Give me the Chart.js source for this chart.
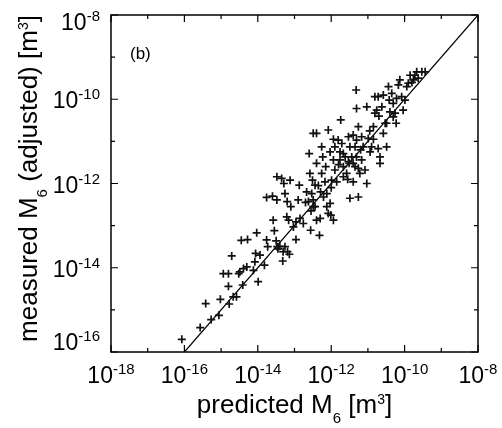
<!DOCTYPE html>
<html>
<head>
    <title>measured vs predicted M6</title>
    <style>
        body { margin: 0; background: #fff; }
        canvas { display: block; }
    </style>
</head>
<body>
    <canvas id="scatterM6" width="502" height="428"></canvas>

    <script src="https://cdn.jsdelivr.net/npm/chart.js"></script>
    <script>
        // log10 of predicted M6 [m^3]
        const predictedLog = [
            -16.07, -15.57, -15.42, -15.27, -15.06, -15.02, -14.80, -14.78, -14.67, -14.58,
            -14.94, -14.80, -14.71, -14.52, -14.49, -14.41, -14.39, -14.30, -14.28, -14.12,
            -14.08, -14.06, -13.99, -13.94, -13.82, -14.03, -13.76, -13.73, -13.58, -13.55,
            -13.76, -13.48, -13.50, -13.47, -13.40, -13.32, -13.31, -13.26, -13.19, -13.14,
            -13.48, -13.35, -13.29, -13.26, -13.21, -13.20, -13.16, -13.12, -13.03, -12.96,
            -12.96, -12.90, -12.87, -12.85, -12.76, -12.62, -12.60, -12.58, -12.53, -12.56,
            -12.49, -12.51, -12.44, -12.49, -12.40, -12.40, -12.32, -12.30, -12.29, -12.26,
            -12.26, -12.23, -12.17, -12.12, -12.08, -12.08, -12.03, -11.99, -12.01, -11.94,
            -11.94, -11.94, -11.90, -11.85, -11.81, -11.76, -11.74, -11.71, -11.67, -11.67,
            -11.62, -11.58, -11.53, -11.51, -11.49, -11.44, -11.40, -11.35, -11.35, -11.32,
            -11.31, -11.26, -11.26, -11.22, -11.17, -11.13, -11.08, -11.03, -11.03, -10.99,
            -10.94, -10.90, -10.85, -10.81, -10.76, -10.72, -10.72, -10.67, -10.67, -10.62,
            -10.53, -10.49, -10.49, -10.44, -10.42, -10.35, -10.31, -10.26, -10.23, -10.22,
            -10.13, -10.08, -10.04, -9.99, -9.94, -9.90, -9.85, -9.76, -9.72, -9.67,
            -9.63, -9.53, -9.44,
            -12.67, -12.44, -12.21, -12.12, -12.40, -12.49, -11.67, -11.53, -11.40, -11.31,
            -11.26, -11.17, -10.81, -10.58, -10.31, -10.17, -10.58, -12.03, -11.90, -11.76,
            -11.49, -11.40, -11.31, -13.60, -14.45, -13.45, -12.70, -12.35, -12.00, -11.80,
            -11.20, -10.95, -10.70, -10.40, -9.80, -12.55, -12.15, -11.55, -10.85, -13.10
        ];

        // log10 of measured M6 (adjusted) [m^3], same order
        const measuredLog = [
            -15.70, -15.42, -14.85, -15.23, -15.13, -14.75, -14.44, -14.86, -14.69, -14.69,
            -14.14, -14.14, -13.72, -14.14, -14.10, -14.41, -14.02, -13.98, -13.33, -14.06,
            -13.86, -13.66, -14.33, -13.70, -13.94, -13.17, -13.34, -13.50, -12.87, -13.12,
            -12.33, -12.39, -13.36, -13.50, -13.49, -13.84, -13.62, -13.50, -13.62, -13.68,
            -11.84, -11.88, -12.00, -12.24, -12.79, -12.43, -12.87, -11.92, -13.03, -12.91,
            -13.33, -12.39, -12.04, -12.83, -12.95, -12.43, -11.29, -11.76, -12.24, -13.11,
            -12.39, -11.92, -12.04, -10.81, -10.81, -11.52, -13.23, -12.83, -12.20, -11.13,
            -11.76, -11.37, -11.96, -12.24, -10.73, -12.71, -12.47, -11.92, -12.75, -12.87,
            -11.44, -10.95, -11.68, -11.96, -10.97, -11.44, -10.49, -11.05, -11.60, -11.84,
            -11.37, -11.76, -10.89, -11.52, -12.35, -11.37, -11.96, -11.13, -11.60, -9.78,
            -10.22, -10.65, -12.32, -11.76, -10.89, -11.13, -11.68, -12.00, -10.18, -10.93,
            -11.25, -11.13, -10.65, -10.33, -10.26, -11.17, -9.94, -11.37, -11.52, -10.18,
            -10.57, -11.13, -10.57, -9.70, -10.02, -9.86, -10.10, -10.33, -10.57, -9.98,
            -9.54, -9.94, -10.26, -10.02, -9.70, -9.62, -9.43, -9.54, -9.43, -9.35,
            -9.50, -9.35, -9.35,
            -12.20, -12.55, -12.32, -12.55, -12.87, -12.55, -11.29, -11.48, -11.52, -11.37,
            -11.64, -11.44, -9.94, -9.90, -10.42, -9.66, -10.81, -11.25, -11.13, -11.25,
            -11.13, -10.85, -10.97, -12.30, -13.35, -13.55, -12.45, -12.05, -12.10, -11.55,
            -11.20, -10.75, -10.40, -10.30, -9.60, -12.65, -11.60, -11.90, -10.95, -12.55
        ];

        // y = x reference line ends
        const diagonalEnds = [1e-16, 1e-8];

        // axis ticks (exponents of 10)
        const xTickExps = [-18, -16, -14, -12, -10, -8];
        const xMinorExps = [-17, -15, -13, -11, -9];
        const yTickExps = [-16, -14, -12, -10, -8];
        const yMinorExps = [-15, -13, -11, -9];

        const points = predictedLog.map((p, i) => ({ x: Math.pow(10, p), y: Math.pow(10, measuredLog[i]) }));

        const FONT = '"Liberation Sans", Arial, Helvetica, sans-serif';

        // draws "10" with a raised exponent; align = 'center' or 'right'
        function drawPower(ctx, exp, x, baseline, align) {
            const base = '10';
            const sup = String(exp);
            ctx.font = '23px ' + FONT;
            const wb = ctx.measureText(base).width;
            ctx.font = '15px ' + FONT;
            const ws = ctx.measureText(sup).width;
            const total = wb + ws;
            let left = align === 'right' ? x - total : x - total / 2;
            ctx.textAlign = 'left';
            ctx.textBaseline = 'alphabetic';
            ctx.font = '23px ' + FONT;
            ctx.fillText(base, left, baseline);
            ctx.font = '15px ' + FONT;
            ctx.fillText(sup, left + wb, baseline - 9);
        }

        // draws a run of [text, kind] pieces, kind: 'n' normal, 'sub', 'sup'
        function drawRich(ctx, pieces, cx, baseline) {
            const fonts = { n: '26px ' + FONT, sub: '15px ' + FONT, sup: '14px ' + FONT };
            const shift = { n: 0, sub: 10, sup: -9 };
            let total = 0;
            pieces.forEach(p => { ctx.font = fonts[p[1]]; total += ctx.measureText(p[0]).width; });
            let x = cx - total / 2;
            ctx.textAlign = 'left';
            ctx.textBaseline = 'alphabetic';
            pieces.forEach(p => {
                ctx.font = fonts[p[1]];
                ctx.fillText(p[0], x, baseline + shift[p[1]]);
                x += ctx.measureText(p[0]).width;
            });
        }

        const framePlugin = {
            id: 'frame',
            afterDraw(chart) {
                const ctx = chart.ctx;
                const a = chart.chartArea;
                const xs = chart.scales.x;
                const ys = chart.scales.y;
                ctx.save();
                ctx.strokeStyle = '#000';
                ctx.fillStyle = '#000';

                // box
                ctx.lineWidth = 1.5;
                ctx.strokeRect(a.left, a.top, a.right - a.left, a.bottom - a.top);

                // inward ticks on all four sides
                ctx.lineWidth = 1.2;
                ctx.beginPath();
                const xt = xTickExps.map(e => [e, 7]).concat(xMinorExps.map(e => [e, 4]));
                xt.forEach(([e, len]) => {
                    const px = xs.getPixelForValue(Math.pow(10, e));
                    ctx.moveTo(px, a.bottom); ctx.lineTo(px, a.bottom - len);
                    ctx.moveTo(px, a.top); ctx.lineTo(px, a.top + len);
                });
                const yt = yTickExps.map(e => [e, 7]).concat(yMinorExps.map(e => [e, 4]));
                yt.forEach(([e, len]) => {
                    const py = ys.getPixelForValue(Math.pow(10, e));
                    ctx.moveTo(a.left, py); ctx.lineTo(a.left + len, py);
                    ctx.moveTo(a.right, py); ctx.lineTo(a.right - len, py);
                });
                ctx.stroke();

                // tick labels
                xTickExps.forEach(e => {
                    drawPower(ctx, e, xs.getPixelForValue(Math.pow(10, e)), a.bottom + 31, 'center');
                });
                yTickExps.forEach(e => {
                    const py = ys.getPixelForValue(Math.pow(10, e));
                    const base = Math.min(Math.max(py + 9, a.top + 15), a.bottom - 2);
                    drawPower(ctx, e, a.left - 11, base, 'right');
                });

                // axis titles
                drawRich(ctx, [['predicted M', 'n'], ['6', 'sub'], [' [m', 'n'], ['3', 'sup'], [']', 'n']],
                    (a.left + a.right) / 2, 413);
                ctx.save();
                ctx.translate(37, (a.top + a.bottom) / 2 - 5);
                ctx.rotate(-Math.PI / 2);
                drawRich(ctx, [['measured M', 'n'], ['6', 'sub'], [' (adjusted) [m', 'n'], ['3', 'sup'], [']', 'n']], 0, 0);
                ctx.restore();

                // panel label
                ctx.font = '17px ' + FONT;
                ctx.textAlign = 'left';
                ctx.fillText('(b)', 130, 59);
                ctx.restore();
            }
        };

        new Chart(document.getElementById('scatterM6'), {
            type: 'scatter',
            data: {
                datasets: [
                    {
                        label: 'samples',
                        data: points,
                        pointStyle: 'cross',
                        pointRadius: 4,
                        pointBorderWidth: 1.7,
                        borderColor: '#111',
                        backgroundColor: '#111'
                    },
                    {
                        label: 'y = x',
                        type: 'line',
                        data: diagonalEnds.map(v => ({ x: v, y: v })),
                        borderColor: '#000',
                        borderWidth: 1.2,
                        pointRadius: 0,
                        fill: false
                    }
                ]
            },
            options: {
                responsive: false,
                animation: false,
                layout: { padding: { left: 111, right: 24, top: 15, bottom: 76 } },
                scales: {
                    x: { type: 'logarithmic', min: 1e-18, max: 1e-8, display: false },
                    y: { type: 'logarithmic', min: 1e-16, max: 1e-8, display: false }
                },
                plugins: {
                    legend: { display: false },
                    tooltip: { enabled: false }
                }
            },
            plugins: [framePlugin]
        });
    </script>
</body>
</html>
